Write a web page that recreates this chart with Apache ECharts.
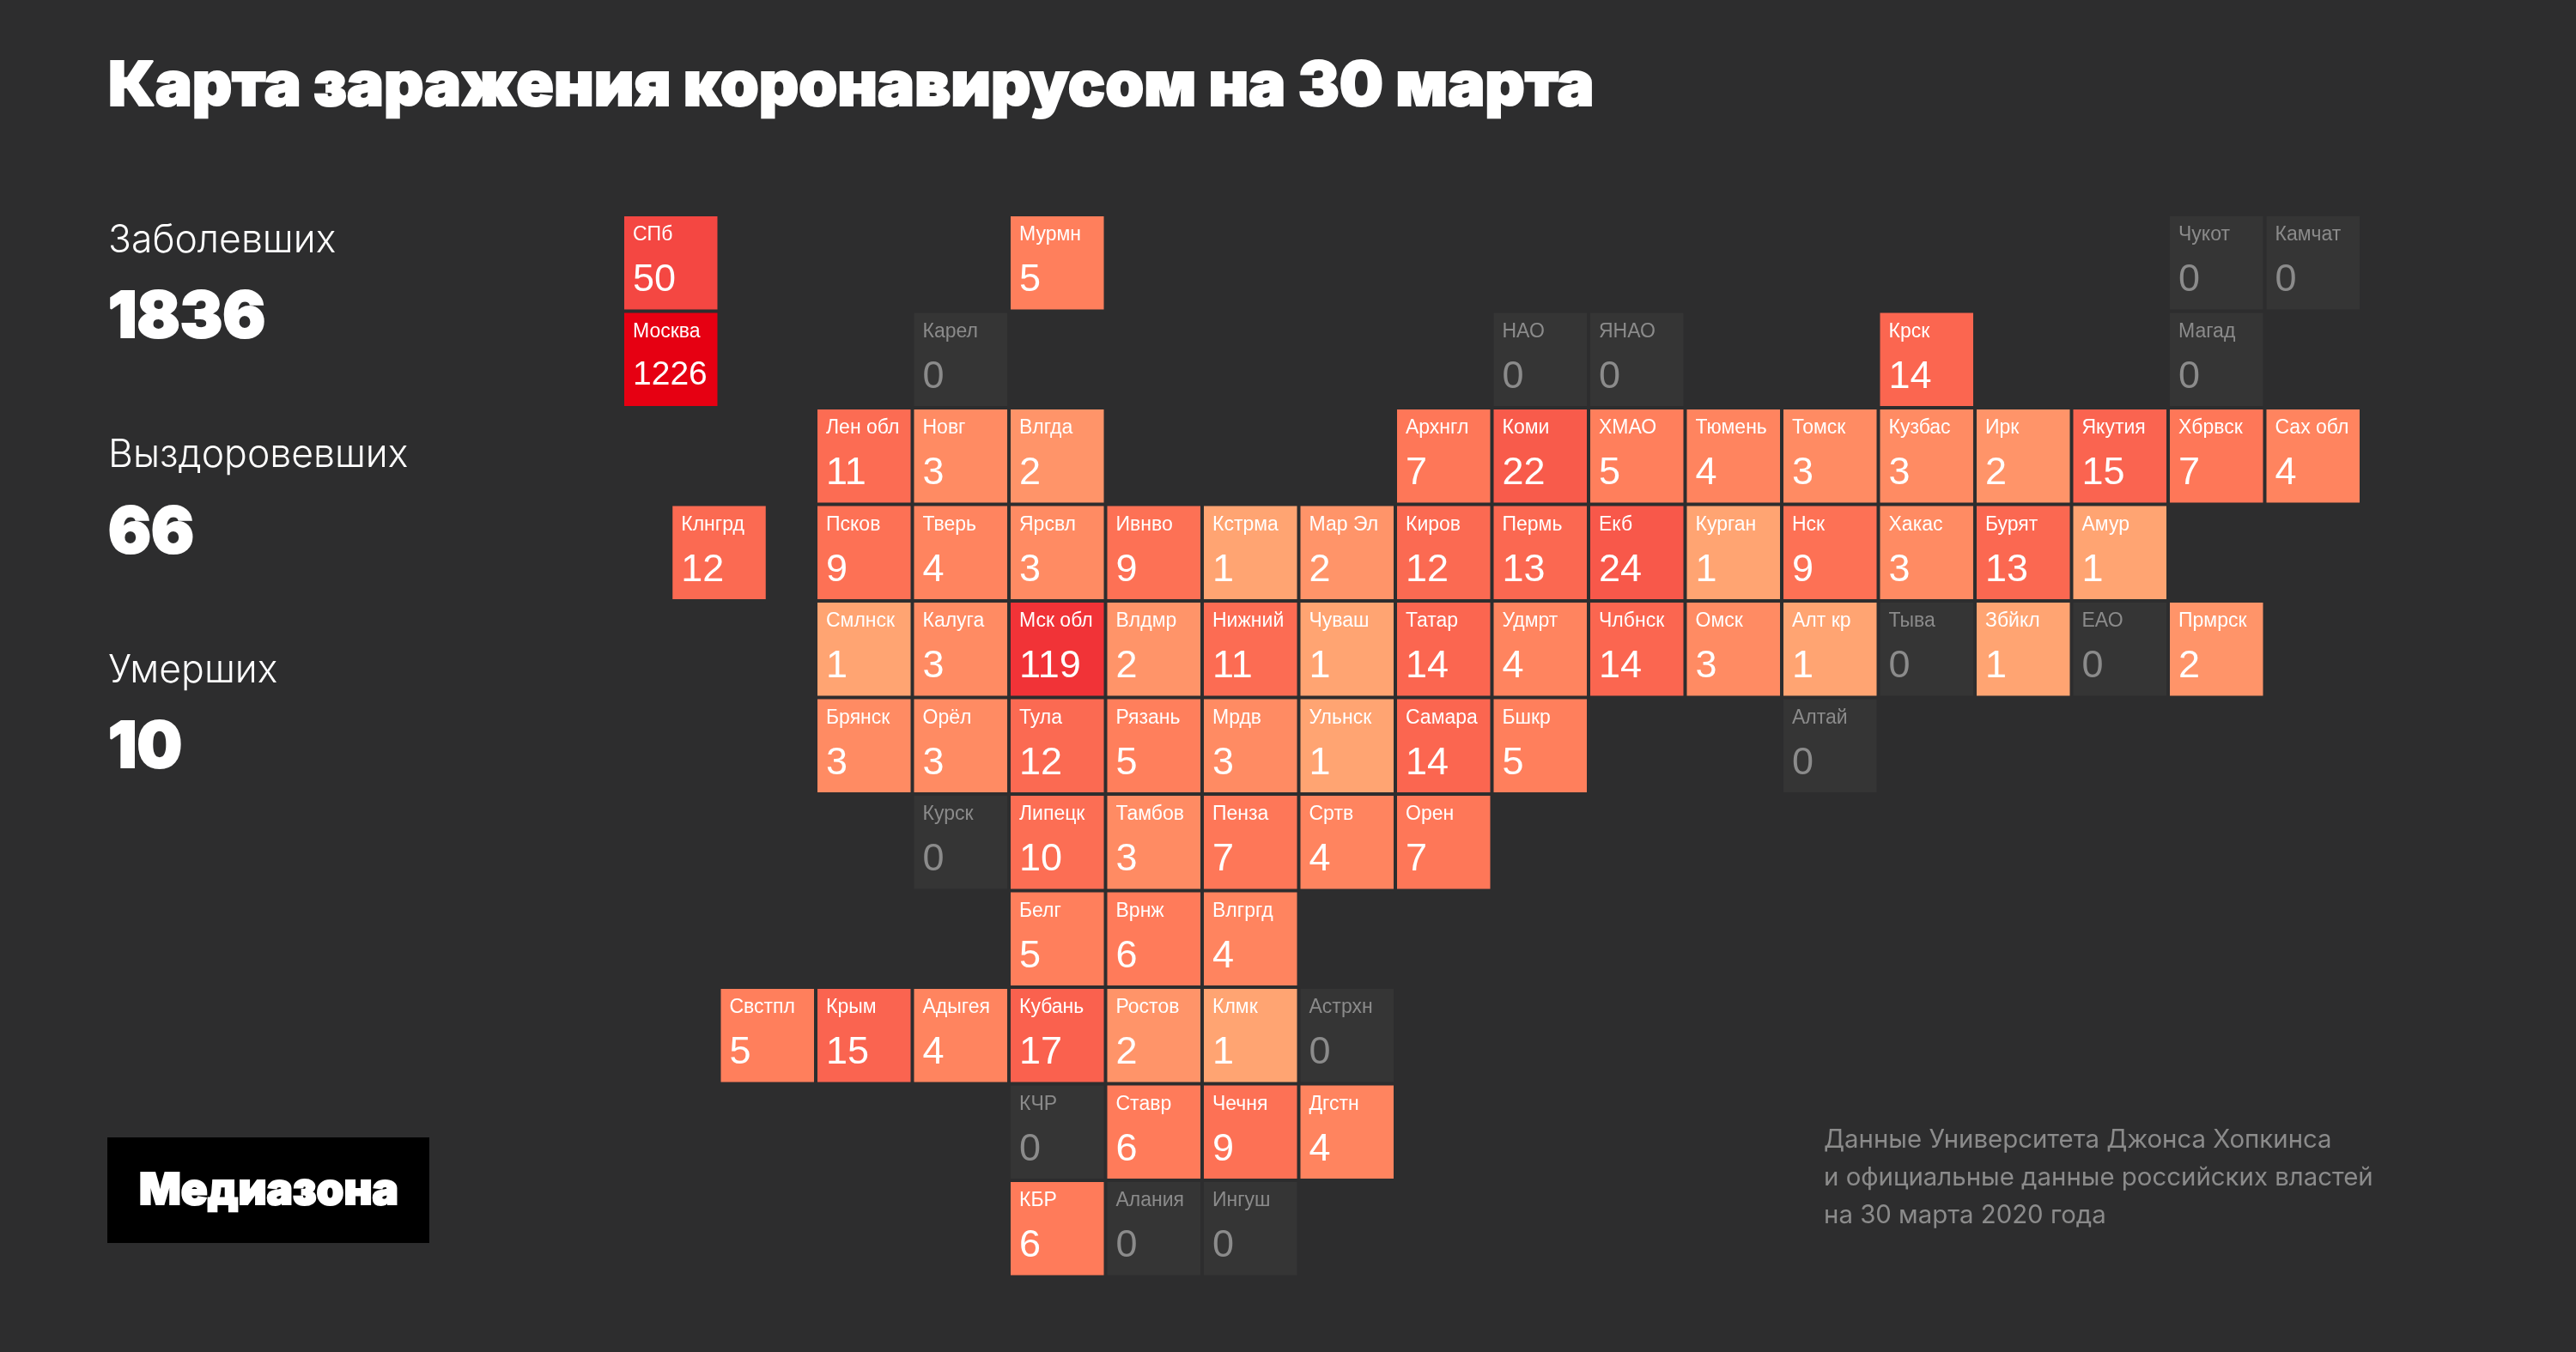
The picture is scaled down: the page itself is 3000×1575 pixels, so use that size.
<!DOCTYPE html>
<html>
<head>
<meta charset="utf-8">
<script src="https://cdn.jsdelivr.net/npm/echarts@6/dist/echarts.min.js"></script>
<style>
html, body { margin: 0; padding: 0; background: #2d2d2e; }
#chart { width: 3000px; height: 1575px; }
</style>
</head>
<body>
<div id="chart"></div>
<script>
var chartTitle = 'Карта заражения коронавирусом на 30 марта';
var statLabels = ['Заболевших', 'Выздоровевших', 'Умерших'];
var statValues = ['1836', '66', '10'];
var logoText = 'Медиазона';
var sourceLines = [
  'Данные Университета Джонса Хопкинса',
  'и официальные данные российских властей',
  'на 30 марта 2020 года'
];

// tile map: region name, cases, column and row of the tile
var regions = [
  'СПб', 'Мурмн', 'Чукот', 'Камчат',
  'Москва', 'Карел', 'НАО', 'ЯНАО', 'Крск', 'Магад',
  'Лен обл', 'Новг', 'Влгда', 'Архнгл', 'Коми', 'ХМАО', 'Тюмень', 'Томск', 'Кузбас', 'Ирк', 'Якутия', 'Хбрвск', 'Сах обл',
  'Клнгрд', 'Псков', 'Тверь', 'Ярсвл', 'Ивнво', 'Кстрма', 'Мар Эл', 'Киров', 'Пермь', 'Екб', 'Курган', 'Нск', 'Хакас', 'Бурят', 'Амур',
  'Смлнск', 'Калуга', 'Мск обл', 'Влдмр', 'Нижний', 'Чуваш', 'Татар', 'Удмрт', 'Члбнск', 'Омск', 'Алт кр', 'Тыва', 'Збйкл', 'ЕАО', 'Прмрск',
  'Брянск', 'Орёл', 'Тула', 'Рязань', 'Мрдв', 'Ульнск', 'Самара', 'Бшкр', 'Алтай',
  'Курск', 'Липецк', 'Тамбов', 'Пенза', 'Сртв', 'Орен',
  'Белг', 'Врнж', 'Влгргд',
  'Свстпл', 'Крым', 'Адыгея', 'Кубань', 'Ростов', 'Клмк', 'Астрхн',
  'КЧР', 'Ставр', 'Чечня', 'Дгстн',
  'КБР', 'Алания', 'Ингуш'
];
var cases = [
  50, 5, 0, 0,
  1226, 0, 0, 0, 14, 0,
  11, 3, 2, 7, 22, 5, 4, 3, 3, 2, 15, 7, 4,
  12, 9, 4, 3, 9, 1, 2, 12, 13, 24, 1, 9, 3, 13, 1,
  1, 3, 119, 2, 11, 1, 14, 4, 14, 3, 1, 0, 1, 0, 2,
  3, 3, 12, 5, 3, 1, 14, 5, 0,
  0, 10, 3, 7, 4, 7,
  5, 6, 4,
  5, 15, 4, 17, 2, 1, 0,
  0, 6, 9, 4,
  6, 0, 0
];
var tileCols = [
  0, 4, 16, 17,
  0, 3, 9, 10, 13, 16,
  2, 3, 4, 8, 9, 10, 11, 12, 13, 14, 15, 16, 17,
  0.5, 2, 3, 4, 5, 6, 7, 8, 9, 10, 11, 12, 13, 14, 15,
  2, 3, 4, 5, 6, 7, 8, 9, 10, 11, 12, 13, 14, 15, 16,
  2, 3, 4, 5, 6, 7, 8, 9, 12,
  3, 4, 5, 6, 7, 8,
  4, 5, 6,
  1, 2, 3, 4, 5, 6, 7,
  4, 5, 6, 7,
  4, 5, 6
];
var tileRows = [
  0, 0, 0, 0,
  1, 1, 1, 1, 1, 1,
  2, 2, 2, 2, 2, 2, 2, 2, 2, 2, 2, 2, 2,
  3, 3, 3, 3, 3, 3, 3, 3, 3, 3, 3, 3, 3, 3, 3,
  4, 4, 4, 4, 4, 4, 4, 4, 4, 4, 4, 4, 4, 4, 4,
  5, 5, 5, 5, 5, 5, 5, 5, 5,
  6, 6, 6, 6, 6, 6,
  7, 7, 7,
  8, 8, 8, 8, 8, 8, 8,
  9, 9, 9, 9,
  10, 10, 10
];

var data_chart = regions.map(function (name, i) {
  // colour scale runs on log10 of cases
  var logCases = cases[i] > 0 ? Math.log10(cases[i]) : 0;
  return { name: name, value: [tileCols[i], tileRows[i], cases[i], logCases] };
});

function renderTile(params, api) {
  var pos = api.coord([api.value(0), api.value(1)]);
  var pitch = api.size([1, 1]);
  var count = api.value(2);
  var textColor = count === 0 ? '#8b8b8b' : '#ffffff';
  var bigNumber = count >= 1000;
  return {
    type: 'group',
    children: [
      {
        type: 'rect',
        shape: { x: pos[0], y: pos[1], width: pitch[0] - 4, height: pitch[1] - 4 },
        style: { fill: count === 0 ? '#353535' : api.visual('color') }
      },
      {
        type: 'text',
        style: {
          x: pos[0] + 10, y: pos[1] + 22,
          text: regions[params.dataIndex],
          fill: textColor,
          font: '23px "Liberation Sans"',
          align: 'left', verticalAlign: 'middle'
        }
      },
      {
        type: 'text',
        style: {
          x: pos[0] + 10, y: pos[1] + (bigNumber ? 73 : 75),
          text: String(count),
          fill: textColor,
          font: (bigNumber ? 39 : 45) + 'px "Liberation Sans"',
          align: 'left', verticalAlign: 'middle'
        }
      }
    ]
  };
}

var graphics = [];
statLabels.forEach(function (label, i) {
  var shift = 250.5 * i;
  graphics.push({
    type: 'text', left: 126, top: 258 + shift,
    style: { text: label, fill: '#ffffff', font: '300 44.5px Inter' }
  });
  graphics.push({
    type: 'text', left: 125, top: 333 + shift,
    style: {
      text: statValues[i], fill: '#ffffff', font: '900 74px Inter',
      stroke: '#ffffff', lineWidth: 2
    }
  });
});
graphics.push({
  type: 'rect', left: 125, top: 1325,
  shape: { width: 375, height: 123 },
  style: { fill: '#000000' }
});
graphics.push({
  type: 'text', left: 161, top: 1361,
  style: {
    text: logoText, fill: '#ffffff', font: '900 51px Inter',
    stroke: '#ffffff', lineWidth: 2
  }
});
sourceLines.forEach(function (line, i) {
  graphics.push({
    type: 'text', left: 2124, top: 1314 + 44 * i,
    style: { text: line, fill: '#8b8b8b', font: '400 29.4px Inter' }
  });
});

var chartDom = document.getElementById('chart');
var myChart = echarts.init(chartDom);
var option = {
  backgroundColor: '#2d2d2e',
  animation: false,
  title: {
    text: chartTitle,
    left: 121,
    top: 60,
    textStyle: {
      color: '#ffffff', fontFamily: 'Inter', fontWeight: 900, fontSize: 72,
      textBorderColor: '#ffffff', textBorderWidth: 2
    }
  },
  grid: { left: 727, top: 252, width: 2025, height: 1237.5 },
  xAxis: { type: 'value', min: 0, max: 18, show: false },
  yAxis: { type: 'value', min: 0, max: 11, inverse: true, show: false },
  visualMap: {
    show: false,
    dimension: 3,
    min: 0,
    max: 3.09,
    inRange: { color: ['#ffa472', '#ff7b5a', '#f64f46', '#ee2630', '#e60012'] }
  },
  graphic: graphics,
  series: [
    {
      type: 'custom',
      coordinateSystem: 'cartesian2d',
      renderItem: renderTile,
      encode: { x: 0, y: 1 },
      data: data_chart
    }
  ]
};
option && myChart.setOption(option);
</script>
</body>
</html>
